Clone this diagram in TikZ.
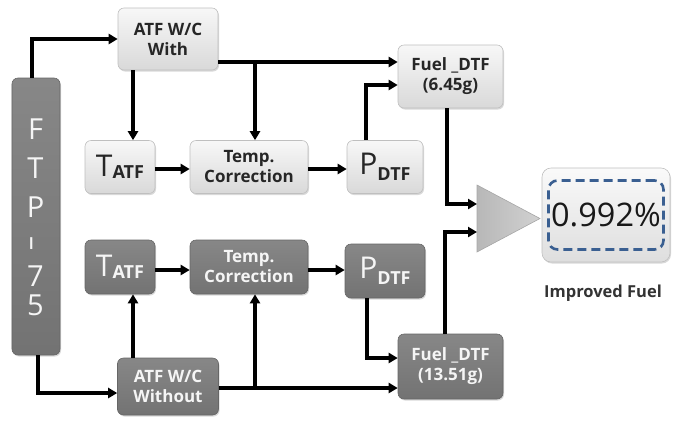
\documentclass[tikz,border=0pt]{standalone}
\usepackage{fontspec}
\setmainfont{Open Sans}
\usetikzlibrary{arrows.meta,shadows}
\definecolor{dashblue}{RGB}{58,95,145}
\begin{document}
\begin{tikzpicture}[x=1bp,y=-1bp,
  arr/.style={line width=3.2bp,-{Triangle[length=9bp,width=10bp]}},
  basebox/.style={rounded corners=6bp, line width=0.6bp, align=center, inner sep=0pt,
    drop shadow={shadow xshift=1bp,shadow yshift=-1.5bp,opacity=0.3},
    font=\fontsize{17bp}{20bp}\selectfont\bfseries},
  lbox/.style={basebox, draw=black!25, top color=black!3, bottom color=black!15, text=black!85},
  dbox/.style={basebox, draw=black!60, top color=black!47, bottom color=black!55, text=black!4},
  bigtxt/.style={font=\fontsize{30bp}{30bp}\selectfont\mdseries},
  bartxt/.style={font=\fontsize{29bp}{30bp}\selectfont\mdseries, text=black!4, inner sep=0pt},
]
\useasboundingbox (0,0) rectangle (676,422);

% FTP-75 bar
\node[dbox, minimum width=48bp, minimum height=277bp] (ftp) at (36,216.5) {};
\node[bartxt] (l1) at (35.5,129) {F};
\node[bartxt] (l2) at (35.5,168) {T};
\node[bartxt] (l3) at (35.5,207) {P};
\node[bartxt] (l4) at (35.5,243.5) {\rotatebox[origin=c]{90}{\scalebox{1.7}[1]{-}}};
\node[bartxt] (l5) at (35.5,276) {7};
\node[bartxt] (l6) at (35.5,305) {5};

% upper row (light)
\node[lbox, minimum width=100bp, minimum height=62bp] (with) at (168,39) {ATF W/C\\With};
\node[lbox, bigtxt, minimum width=70bp, minimum height=53bp] (tatf1) at (120,167)
  {T\raisebox{-2bp}{\fontsize{18bp}{18bp}\selectfont\bfseries ATF}};
\node[lbox, minimum width=118bp, minimum height=53bp] (tc1) at (249,167) {Temp.\\Correction};
\node[lbox, bigtxt, minimum width=76bp, minimum height=53bp] (pdtf1) at (385,167)
  {P\raisebox{-6bp}{\fontsize{18bp}{18bp}\selectfont\bfseries DTF}};
\node[lbox, minimum width=105bp, minimum height=63bp] (fuel1) at (450.5,76.5) {Fuel \_DTF\\(6.45g)};

% lower row (dark)
\node[dbox, minimum width=101bp, minimum height=57bp] (without) at (168,386.5) {ATF W/C\\Without};
\node[dbox, bigtxt, minimum width=70bp, minimum height=54bp] (tatf2) at (120,267)
  {T\raisebox{-2bp}{\fontsize{18bp}{18bp}\selectfont\bfseries ATF}};
\node[dbox, minimum width=118bp, minimum height=54bp] (tc2) at (249,267) {Temp.\\Correction};
\node[dbox, bigtxt, minimum width=80bp, minimum height=54bp] (pdtf2) at (385,271)
  {P\raisebox{-6bp}{\fontsize{18bp}{18bp}\selectfont\bfseries DTF}};
\node[dbox, minimum width=105bp, minimum height=65bp] (fuel2) at (450.5,366.5) {Fuel \_DTF\\(13.51g)};

% comparator triangle
\draw[draw=black!35, line width=0.6bp, left color=black!28, right color=black!18]
  (477,185) -- (540,218.5) -- (477,252) -- cycle;
\coordinate (triL) at (477,218);

% result
\node[lbox, rounded corners=9bp, minimum width=128bp, minimum height=94bp,
      top color=black!2, bottom color=black!13] (res) at (606,215) {};
\node[draw=dashblue, dashed, dash pattern=on 9bp off 5bp, line width=2.6bp, rounded corners=9bp,
      minimum width=115bp, minimum height=69bp, inner sep=0pt,
      font=\fontsize{32.5bp}{33bp}\selectfont, text=black!90] (val) at (res.center) {0.992\%};
\node[font=\fontsize{16.5bp}{18bp}\selectfont\bfseries, text=black!80] (imp) at (603,293) {Improved Fuel};

% helper coordinates
\coordinate (xTop) at (32,40);
\coordinate (xA) at (133,0);
\coordinate (yW) at (255,62);
\coordinate (xP) at (366,85);
\coordinate (xF) at (447,204);
\coordinate (yT1) at (0,169);
\coordinate (xBot) at (38,393);
\coordinate (yW2) at (255,388);
\coordinate (yT2) at (0,270);
\coordinate (xP2) at (367,358);
\coordinate (xF2) at (445,232);

% upper connectors
\draw[arr] (ftp.north -| xTop) |- (with.west);
\draw[arr] (with.south -| xA) -- (tatf1.north -| xA);
\draw[arr] (with.east |- yW) -- (fuel1.west |- yW);
\draw[arr] (yW) -- (tc1.north -| yW);
\draw[arr] (tatf1.east |- yT1) -- (tc1.west |- yT1);
\draw[arr] (tc1.east |- yT1) -- (pdtf1.west |- yT1);
\draw[arr] (pdtf1.north -| xP) |- (fuel1.west |- xP);
\draw[arr] (fuel1.south -| xF) |- (triL |- xF);

% lower connectors
\draw[arr] (ftp.south -| xBot) |- (without.west |- xBot);
\draw[arr] (without.north -| xA) -- (tatf2.south -| xA);
\draw[arr] (without.east |- yW2) -- (fuel2.west |- yW2);
\draw[arr] (yW2) -- (tc2.south -| yW2);
\draw[arr] (tatf2.east |- yT2) -- (tc2.west |- yT2);
\draw[arr] (tc2.east |- yT2) -- (pdtf2.west |- yT2);
\draw[arr] (pdtf2.south -| xP2) |- (fuel2.west |- xP2);
\draw[arr] (fuel2.north -| xF2) |- (triL |- xF2);
\end{tikzpicture}
\end{document}
